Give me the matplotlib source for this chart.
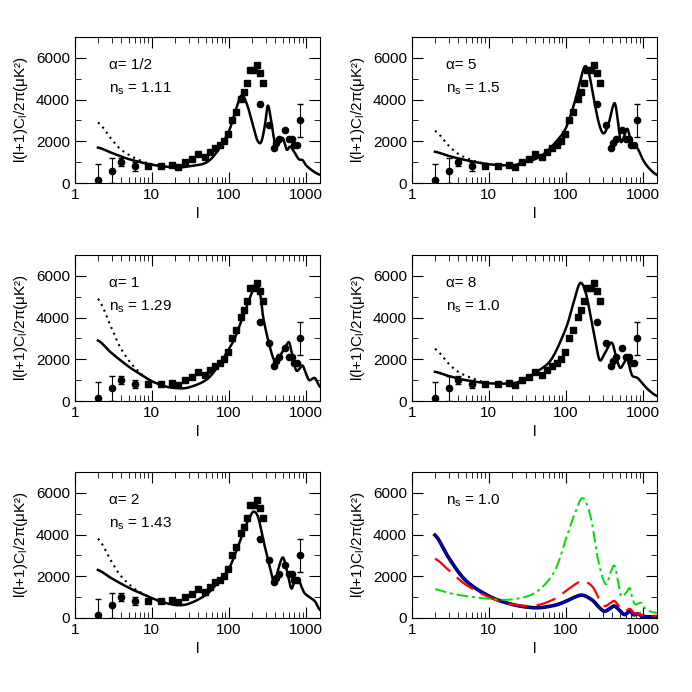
import matplotlib
matplotlib.use("Agg")
import matplotlib.pyplot as plt
from matplotlib.ticker import LogLocator, NullFormatter, FixedLocator
import numpy as np

plt.rcParams['font.family'] = ['Liberation Sans', 'DejaVu Sans']
plt.rcParams['mathtext.fontset'] = 'dejavusans'

# observational data
sq_l = [9, 13, 18, 22, 27, 33, 40, 49, 56, 66, 77, 87, 96, 110, 124, 144, 156, 172, 189, 208, 231, 254, 280]
sq_v = [810, 800, 850, 750, 1000, 1170, 1410, 1260, 1500, 1700, 1820, 2030, 2350, 3000, 3400, 4050, 4380,
        4780, 5400, 5400, 5670, 5270, 4780]
ci_l = [2, 3, 4, 6, 250, 335, 380, 410, 440, 525, 600, 660, 700, 760, 845]
ci_v = [150, 600, 1000, 800, 3800, 2790, 1700, 1900, 2100, 2540, 2100, 2100, 1800, 1800, 3000]
err_l = [2, 3, 4, 6, 845]
err_v = [150, 600, 1000, 800, 3000]
err_lo = [0, 0, 800, 600, 2200]
err_hi = [900, 1200, 1200, 1000, 3800]

# model curves
p1_l = [2,3,5,10,20,30,50,70,100,120,145,170,200,230,260,290,317,345,380,410,460,500,560,620,700,800,900,1000,1200,1500]
p1_v = [1700,1450,1150,880,750,800,970,1500,2500,3400,4200,3800,2900,2100,1950,2700,3700,3200,2200,1800,2000,2150,1600,1750,1500,1150,1100,850,600,400]
p1_dl = [2,3,4,6,10,20]; p1_dv = [2900,2100,1600,1200,900,750]

p2_l = [2,3,5,10,20,26,40,53,75,100,130,155,177,200,230,270,310,360,400,433,470,510,560,625,700,850,1000,1200,1500]
p2_v = [1500,1300,1100,900,850,950,1150,1430,2000,2650,3900,5000,5600,5200,4000,2800,2380,2900,3600,3800,3000,2000,2200,2600,2000,1650,1100,700,400]
p2_dl = [2,3,4,6,10]; p2_dv = [2500,1800,1400,1100,900]

p3_l = [2,3,5,7,10,15,21,30,50,70,100,120,150,180,210,236,260,278,330,386,430,500,560,605,660,740,820,900,1000,1100,1300,1500]
p3_v = [2900,2300,1650,1300,950,700,620,650,1000,1600,2500,3050,4000,4800,5400,5570,4900,4000,2750,1950,2000,2400,2700,2800,2200,1480,1550,1700,1300,1000,1100,700]
p3_dl = [2,3,4,6,10]; p3_dv = [4900,3500,2500,1600,950]

p4_l = [2,3,5,10,20,27,45,66,100,125,152,180,210,245,275,320,390,440,500,560,620,680,730,850,1000,1200,1500]
p4_v = [1400,1200,1000,850,850,1000,1480,2050,3500,4700,5650,5200,4000,2700,1950,2300,2800,2200,1600,1800,2050,1500,1200,1100,800,500,250]
p4_dl = [2,3,4,6,10]; p4_dv = [2500,1800,1400,1100,850]

p5_l = [2,3,5,7,10,15,21,30,50,70,100,130,160,190,211,240,280,320,355,390,440,500,560,640,700,780,870,950,1100,1300,1500]
p5_v = [2300,1900,1450,1200,950,720,620,680,1100,1650,2380,3400,4300,4900,5100,4800,3700,2800,2150,1650,2400,2900,2300,1430,1700,1900,1500,1200,1000,800,400]
p5_dl = [2,3,4,6,10,15]; p5_dv = [3800,2700,2000,1400,950,720]

b_l = [2,3,5,10,20,40,70,100,130,165,220,270,316,370,425,500,575,670,750,850,1000,1500]
b_v = [3970,2900,1800,1050,650,490,600,800,1000,1090,850,500,320,450,570,350,160,320,150,200,80,40]
r_l = [2,3,5,10,20,40,70,100,130,165,220,270,316,370,425,500,575,670,750,850,1000,1500]
r_v = [2840,2300,1600,1000,650,600,900,1300,1600,1780,1500,900,570,700,810,500,320,440,250,210,130,100]
g_l = [2,3,5,10,20,40,70,100,130,165,210,260,325,380,425,470,520,600,670,730,800,950,1100,1500]
g_v = [1380,1200,1050,920,890,1215,2200,3800,5000,5750,4800,2800,1620,2200,2510,1800,1050,1200,1430,900,650,730,400,240]

panels = [
    ("α= 1/2", "1.11", p1_l, p1_v, p1_dl, p1_dv),
    ("α= 5", "1.5", p2_l, p2_v, p2_dl, p2_dv),
    ("α= 1", "1.29", p3_l, p3_v, p3_dl, p3_dv),
    ("α= 8", "1.0", p4_l, p4_v, p4_dl, p4_dv),
    ("α= 2", "1.43", p5_l, p5_v, p5_dl, p5_dv),
]

def smooth(xs, ys, n=12):
    """Catmull-Rom spline through the read points, in log-x space."""
    x = np.log10(np.asarray(xs, float)); y = np.asarray(ys, float)
    X = np.concatenate([[2 * x[0] - x[1]], x, [2 * x[-1] - x[-2]]])
    Y = np.concatenate([[y[0]], y, [y[-1]]])
    ox, oy = [], []
    for i in range(1, len(X) - 2):
        t = np.linspace(0, 1, n, endpoint=False)
        for arr, out in ((X, ox), (Y, oy)):
            p0, p1, p2, p3 = arr[i - 1], arr[i], arr[i + 1], arr[i + 2]
            out.extend(0.5 * ((2 * p1) + (-p0 + p2) * t + (2 * p0 - 5 * p1 + 4 * p2 - p3) * t ** 2
                              + (-p0 + 3 * p1 - 3 * p2 + p3) * t ** 3))
    ox.append(x[-1]); oy.append(y[-1])
    return 10 ** np.array(ox), np.array(oy)

fig = plt.figure(figsize=(6.92, 6.92), dpi=100)
lefts = [0.108, 0.595]
bottoms = [0.7355, 0.4205, 0.107]
W, H = 0.354, 0.211

def style(ax):
    ax.set_xscale('log')
    ax.set_xlim(1, 1500)
    ax.set_ylim(0, 7000)
    ax.xaxis.set_major_locator(FixedLocator([1, 10, 100, 1000]))
    ax.set_xticklabels(['1', '10', '100', '1000'])
    ax.xaxis.set_minor_locator(LogLocator(base=10, subs=np.arange(2, 10)))
    ax.xaxis.set_minor_formatter(NullFormatter())
    ax.set_yticks([0, 2000, 4000, 6000])
    ax.yaxis.set_minor_locator(FixedLocator(np.arange(0, 7001, 1000)))
    ax.tick_params(which='both', direction='in', top=True, right=True, labelsize=11)
    ax.tick_params(which='major', length=8)
    ax.tick_params(which='minor', length=4)
    ax.set_xlabel('l', fontsize=11)
    ax.set_ylabel(r'l(l+1)C$_\mathregular{l}$/2π(μK²)', fontsize=11)

axes = []
for i in range(6):
    r, c = divmod(i, 2)
    ax = fig.add_axes([lefts[c], bottoms[r], W, H])
    style(ax)
    axes.append(ax)

for ax, (alab, ns, ml, mv, dtl, dtv) in zip(axes[:5], panels):
    ax.plot(*smooth(ml, mv), color='black', lw=1.8)
    ax.plot(*smooth(dtl, dtv), color='black', lw=1.5, ls=(0, (1, 2)))
    ax.plot(ci_l, ci_v, 'o', color='black', ms=4.5)
    ax.plot(sq_l, sq_v, 's', color='black', ms=4)
    ev = np.array(err_v)
    ax.errorbar(err_l, ev, yerr=[ev - np.array(err_lo), np.array(err_hi) - ev],
                fmt='none', ecolor='black', elinewidth=0.8, capsize=2.5)
    ax.text(0.14, 0.78, alab, transform=ax.transAxes, fontsize=11)
    ax.text(0.14, 0.62, r'n$_\mathregular{s}$ = ' + ns, transform=ax.transAxes, fontsize=11)

ax = axes[5]
ax.plot(*smooth(b_l, b_v), color='black', lw=2.6)
ax.plot(*smooth(b_l, b_v), color='#0000dd', lw=1.5)
ax.plot(*smooth(r_l, r_v), color='red', lw=1.6, ls=(0, (9, 4)))
ax.plot(*smooth(g_l, g_v), color='#00dd00', lw=1.4, ls=(0, (6, 2, 1.5, 2)))
ax.text(0.14, 0.78, r'n$_\mathregular{s}$ = 1.0', transform=ax.transAxes, fontsize=11)

fig.savefig('out.png', dpi=100)
